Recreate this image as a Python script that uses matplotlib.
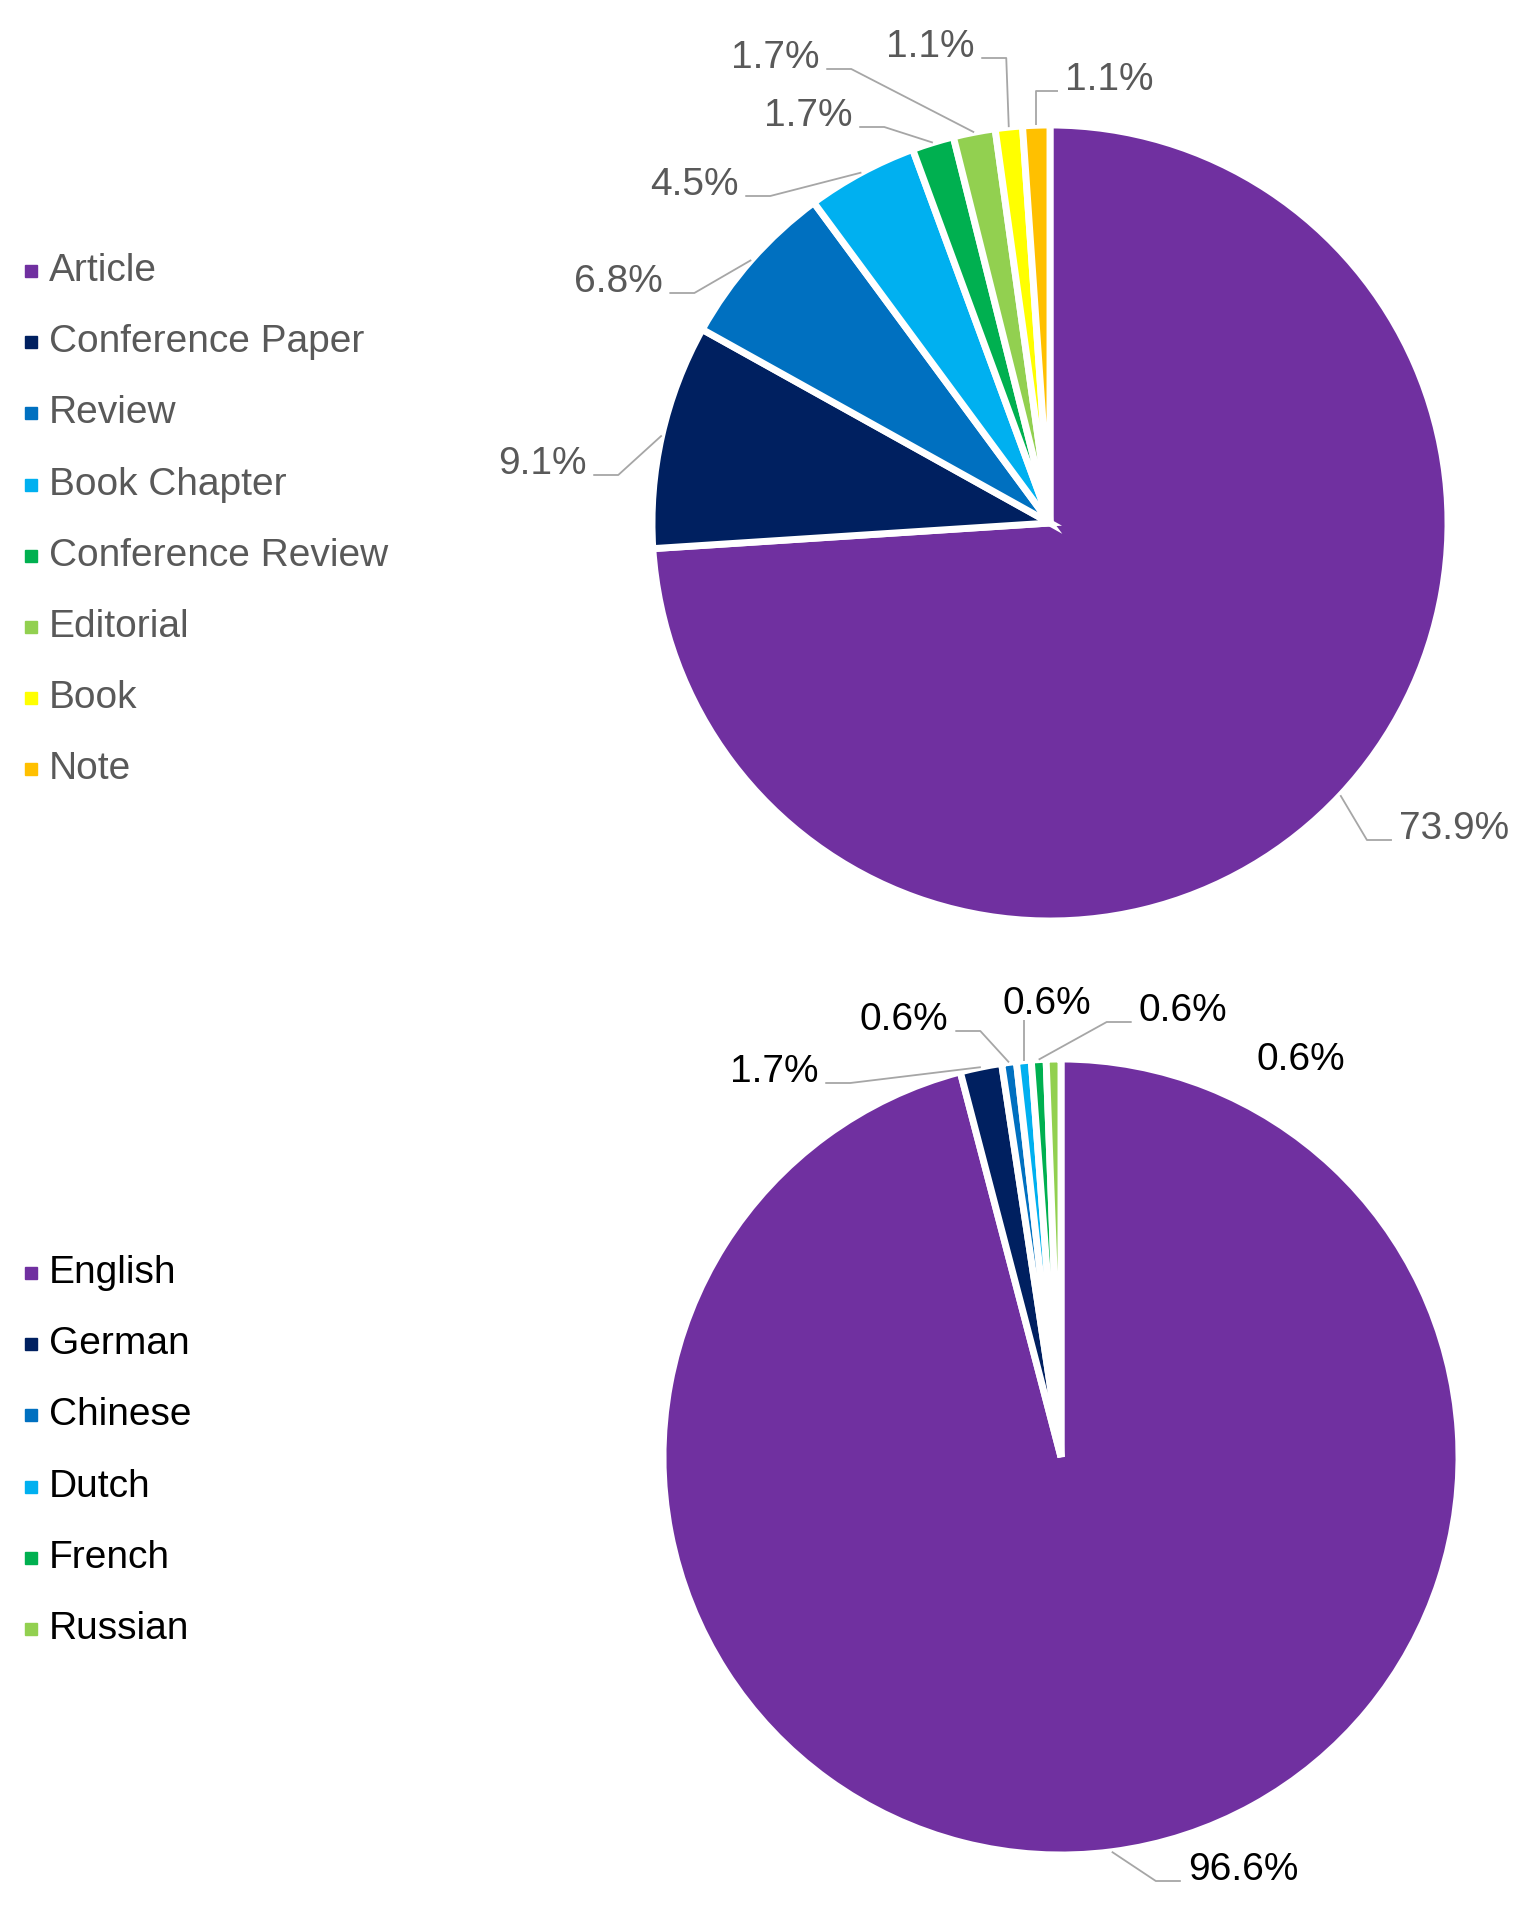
import matplotlib
matplotlib.use("Agg")
import matplotlib.pyplot as plt
import numpy as np

plt.rcParams['font.family'] = ['Liberation Sans', 'DejaVu Sans']

# Document types (top pie)
doc_types = ['Article', 'Conference Paper', 'Review', 'Book Chapter',
             'Conference Review', 'Editorial', 'Book', 'Note']
doc_share = [73.9, 9.1, 6.8, 4.5, 1.7, 1.7, 1.1, 1.1]
doc_colors = ['#7030A0', '#002060', '#0070C0', '#00B0F0',
              '#00B050', '#92D050', '#FFFF00', '#FFC000']

# Languages (bottom pie)
languages = ['English', 'German', 'Chinese', 'Dutch', 'French', 'Russian']
lang_share = [96.6, 1.7, 0.6, 0.6, 0.6, 0.6]
lang_colors = ['#7030A0', '#002060', '#0070C0', '#00B0F0', '#00B050', '#92D050']

W, H = 1534, 1919
fig = plt.figure(figsize=(W / 100, H / 100), dpi=100)
ax = fig.add_axes([0, 0, 1, 1])


def draw_pie(values, colors, names, center, radius, label_pos, leaders,
             text_color, legend_top):
    cx, cy = center
    wedges, _ = ax.pie(values, colors=colors, startangle=90, counterclock=False,
                       center=(cx, H - cy), radius=radius,
                       wedgeprops=dict(edgecolor='white', linewidth=5))
    ax.set_xlim(0, W)
    ax.set_ylim(0, H)
    rend = fig.canvas.get_renderer()
    for w, v, (lx, ly), lead in zip(wedges, values, label_pos, leaders):
        t = ax.text(lx, H - ly, f'{v:.1f}%', ha='center', va='center',
                    fontsize=28, color=text_color)
        if not lead:
            continue
        mid = np.deg2rad((w.theta1 + w.theta2) / 2)
        axp = cx + radius * np.cos(mid)
        ayp = H - cy + radius * np.sin(mid)
        bb = t.get_window_extent(renderer=rend)
        yl = H - ly - 11
        if bb.x0 <= axp <= bb.x1:
            xs, ys = [axp, axp], [ayp, bb.y0 + 2]
        elif axp < bb.x0:
            edge = bb.x0 - 7
            elbow = min(edge, max(edge - 25, axp))
            xs, ys = [axp, elbow, edge], [ayp, yl, yl]
        else:
            edge = bb.x1 + 7
            elbow = max(edge, min(edge + 25, axp))
            xs, ys = [axp, elbow, edge], [ayp, yl, yl]
        ax.plot(xs, ys, color='#A6A6A6', lw=1.3, solid_capstyle='butt')
    # legend
    for i, (name, col) in enumerate(zip(names, colors)):
        y = H - (legend_top + i * 71.2)
        ax.plot(31, y, marker='s', markersize=9, color=col, linestyle='none')
        ax.text(49, y, name, ha='left', va='center', fontsize=28,
                color=text_color)


draw_pie(doc_share, doc_colors, doc_types, (1050, 523), 398,
         [(1454, 829), (542, 464), (618, 282), (694, 185),
          (808, 116), (775, 58), (930, 47), (1109, 80)],
         [True] * 8, '#595959', 271)

draw_pie(lang_share, lang_colors, languages, (1061, 1457), 398,
         [(1243, 1870), (774, 1072), (904, 1020), (1047, 1004),
          (1183, 1011), (1301, 1060)],
         [True, True, True, True, True, False], '#000000', 1273)

ax.set_xlim(0, W)
ax.set_ylim(0, H)
ax.axis('off')
fig.savefig('out.png', dpi=100)
